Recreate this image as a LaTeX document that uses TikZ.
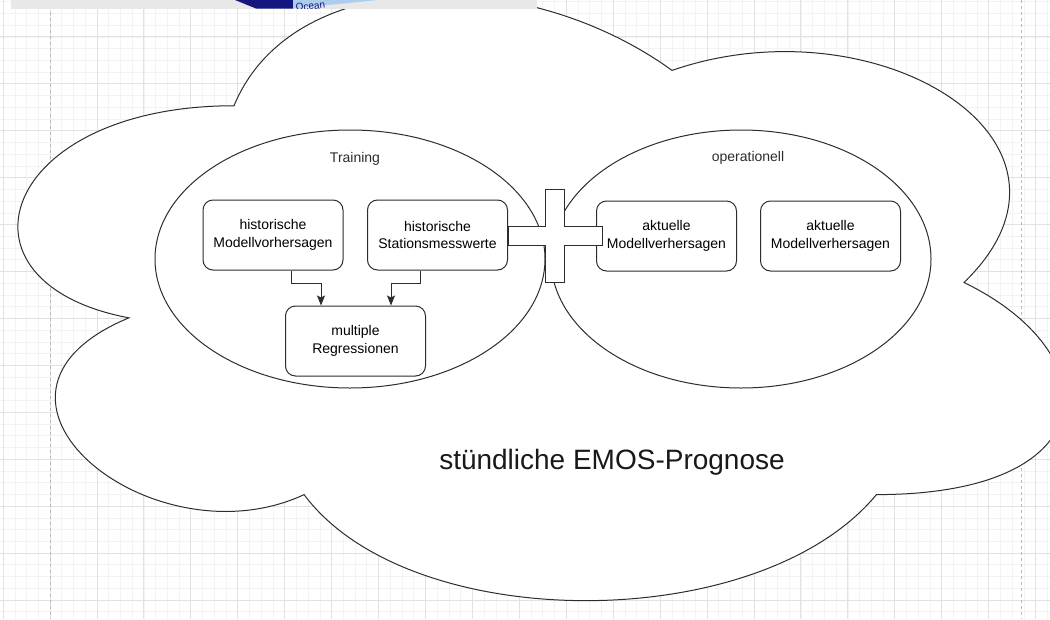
\documentclass[tikz,border=0pt]{standalone}
\usepackage{fontspec}
\setmainfont{Liberation Sans}
\usetikzlibrary{arrows.meta,shapes.geometric}

\definecolor{DrawGrey}{RGB}{45,45,45}
\definecolor{GridMinor}{RGB}{243,243,243}
\definecolor{GridMajor}{RGB}{226,226,226}
\definecolor{PageLine}{RGB}{185,185,185}
\definecolor{BarGrey}{RGB}{232,232,232}
\definecolor{OceanNavy}{RGB}{22,22,128}
\definecolor{OceanLight}{RGB}{172,206,236}

\begin{document}
\begin{tikzpicture}[x=1pt, y=-1pt,
    gridminor/.style={GridMinor, line width=0.6pt},
    gridmajor/.style={GridMajor, line width=0.8pt},
    pageline/.style={PageLine, line width=0.8pt, dash pattern=on 3pt off 3pt},
    cloudline/.style={draw=DrawGrey, line width=1pt, fill=white},
    phase/.style={ellipse, draw=DrawGrey, line width=1pt, fill=white, inner sep=0pt},
    box/.style={draw=DrawGrey, line width=1pt, fill=white, rounded corners=10pt,
        minimum width=140pt, minimum height=70pt, inner sep=0pt, align=center,
        font=\fontsize{14}{17.5}\selectfont},
    lbl/.style={font=\fontsize{14}{17}\selectfont, text=DrawGrey},
    arr/.style={-{Stealth[length=10pt,width=8pt,inset=2pt]}, line width=1pt, DrawGrey}]
    \useasboundingbox (0,0) rectangle (1050,619);
    \clip (0,0) rectangle (1050,619);

    % Grid background
    \fill[white] (0,0) rectangle (1050,619);
    \foreach \i in {0,...,90}
        \draw[gridminor] ({3.07+11.7325*\i},0) -- ++(0,619);
    \foreach \j in {0,...,53}
        \draw[gridminor] (0,{1.61+11.7325*\j}) -- ++(1050,0);
    \foreach \i in {0,...,22}
        \draw[gridmajor] ({3.07+46.93*\i},0) -- ++(0,619);
    \foreach \j in {0,...,13}
        \draw[gridmajor] (0,{-10.13+46.93*\j}) -- ++(1050,0);
    \draw[pageline] (50,0) -- (50,619);
    \draw[pageline] (1021,0) -- (1021,619);

    % Cloud
    \draw[cloudline] (234,105.75) .. controls (0.4,105.75) and (-58,282.5) .. (128.9,317.85)
        .. controls (-58,395.6) and (152.2,565.3) .. (304.1,494.6)
        .. controls (409.2,636) and (759.6,636) .. (876.4,494.6)
        .. controls (1110,494.6) and (1110,353.2) .. (964,282.5)
        .. controls (1110,141.1) and (876.4,-0.3) .. (672,70.4)
        .. controls (526,-35.65) and (292.4,-35.65) .. (234,105.75) -- cycle;

    % Screenshot strip at the top
    \fill[BarGrey] (11,0) rectangle (537,8.5);
    \fill[OceanNavy] (235,0) -- (293,0) -- (293,8.5) -- (256,8.5) -- cycle;
    \fill[OceanLight] (293,0) -- (378,0) -- (293,8.5) -- cycle;
    \begin{scope}
        \clip (293,0) rectangle (378,8.5);
        \node[anchor=base west, inner sep=0pt, font=\fontsize{10}{12}\selectfont, text=OceanNavy, rotate=6] (ocean) at (296,11) {Ocean};
    \end{scope}

    % Two phases
    \node[phase, minimum width=390pt, minimum height=258pt] (train) at (350,259) {};
    \node[phase, minimum width=380pt, minimum height=258pt] (oper) at (741,259) {};
    \node[lbl] (trainlbl) at (355,159) {Training};
    \node[lbl] (operlbl) at (748,158) {operationell};

    % Boxes
    \node[box] (hmv) at (273,235) {historische\\Modellvorhersagen};
    \node[box] (hsm) at (437.5,235) {historische\\Stationsmesswerte};
    \node[box] (mreg) at (355.5,341) {multiple\\Regressionen};
    \node[box] (amv) at (666.5,236) {aktuelle\\Modellverhersagen};
    \node[box] (amv2) at (830.5,236) {aktuelle\\Modellverhersagen};

    % Arrows into the regression
    \draw[arr] ([xshift=18pt]hmv.south) -- ++(0,13) -| ([xshift=-34.5pt]mreg.north);
    \draw[arr] ([xshift=-17.5pt]hsm.south) -- ++(0,13) -| ([xshift=35.5pt]mreg.north);

    % Plus sign
    \draw[cloudline] (545,189) -- (564,189) -- (564,226) -- (602,226) -- (602,245)
        -- (564,245) -- (564,282) -- (545,282) -- (545,245) -- (508,245)
        -- (508,226) -- (545,226) -- cycle;

    % Title
    \node[font=\fontsize{28}{34}\selectfont, text=black!90] (title) at (612,462) {stündliche EMOS-Prognose};
\end{tikzpicture}
\end{document}
